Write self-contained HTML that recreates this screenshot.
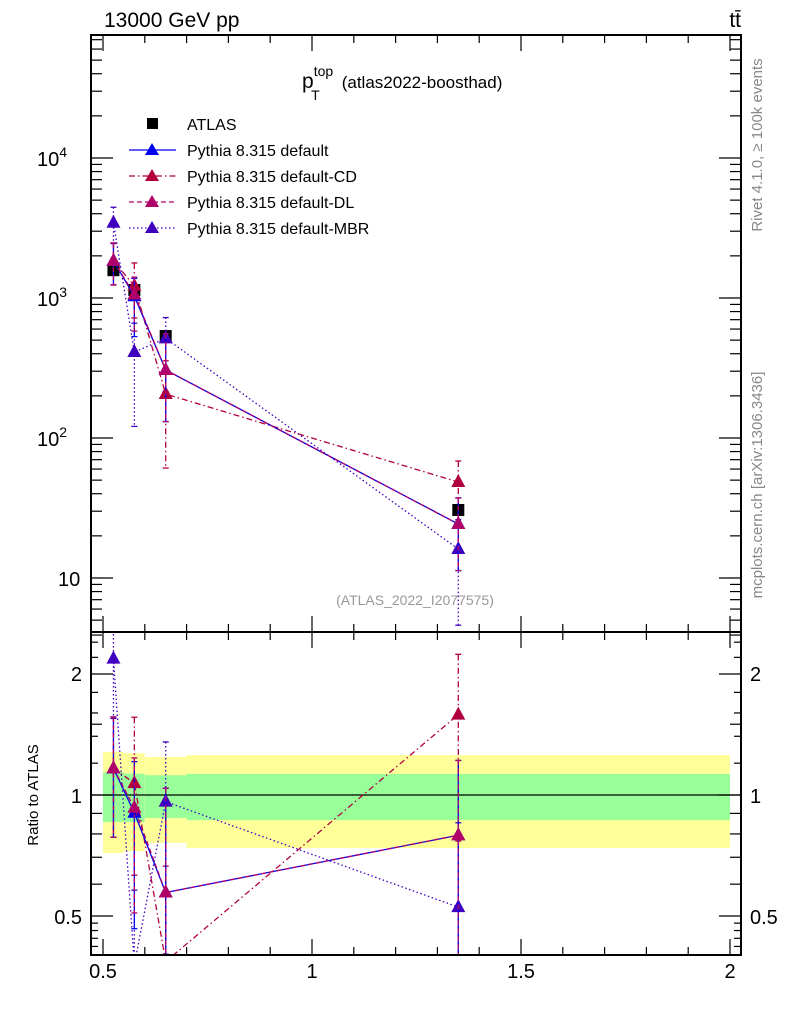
<!DOCTYPE html>
<html><head><meta charset="utf-8"><style>
html,body{margin:0;padding:0;background:#fff;width:786px;height:1024px;overflow:hidden;position:relative}
svg{display:block;position:absolute;left:0;top:0;font-family:"Liberation Sans",sans-serif}
</style></head><body>
<svg id="c" width="786" height="1024" viewBox="0 0 786 1024">
<text x="104" y="27" font-size="21">13000 GeV pp</text>
<text x="741" y="27" font-size="21" text-anchor="end">tt̄</text>
<text x="302" y="88" font-size="21">p<tspan font-size="14" dy="-12">top</tspan><tspan font-size="14" dx="-22" dy="24">T</tspan><tspan font-size="17" dx="22" dy="-12">(atlas2022-boosthad)</tspan></text>
<g font-size="16">
<rect x="147" y="118" width="11" height="11" fill="#000"/>
<text x="187" y="130">ATLAS</text>
<line x1="129" x2="176" y1="150" y2="150" stroke="#0000ee" stroke-width="1.3"/><path d="M152,143L159,155L145,155Z" fill="#0000ee"/>
<text x="187" y="156">Pythia 8.315 default</text>
<line x1="129" x2="176" y1="176" y2="176" stroke="#b00040" stroke-width="1.3" stroke-dasharray="6,3,1.5,3"/><path d="M152,169L159,181L145,181Z" fill="#b00040"/>
<text x="187" y="182">Pythia 8.315 default-CD</text>
<line x1="129" x2="176" y1="202" y2="202" stroke="#b0006a" stroke-width="1.3" stroke-dasharray="5,3"/><path d="M152,195L159,207L145,207Z" fill="#b0006a"/>
<text x="187" y="208">Pythia 8.315 default-DL</text>
<line x1="129" x2="176" y1="228" y2="228" stroke="#4000c0" stroke-width="1.3" stroke-dasharray="1.5,2.5"/><path d="M152,221L159,233L145,233Z" fill="#4000c0"/>
<text x="187" y="234">Pythia 8.315 default-MBR</text>
</g>
<g font-size="20">
<text x="37" y="166">10<tspan font-size="14" dy="-9">4</tspan></text>
<text x="37" y="306">10<tspan font-size="14" dy="-9">3</tspan></text>
<text x="37" y="446">10<tspan font-size="14" dy="-9">2</tspan></text>
<text x="58" y="586">10</text>
<text x="82" y="681" text-anchor="end">2</text>
<text x="82" y="803" text-anchor="end">1</text>
<text x="82" y="924" text-anchor="end">0.5</text>
<text x="750" y="681">2</text>
<text x="750" y="803">1</text>
<text x="750" y="924">0.5</text>
</g>
<text x="415" y="605" font-size="14" fill="#999" text-anchor="middle">(ATLAS_2022_I2077575)</text>
<text transform="translate(38,795) rotate(-90)" font-size="15" text-anchor="middle">Ratio to ATLAS</text>
<text transform="translate(762,145) rotate(-90)" font-size="15" fill="#888" text-anchor="middle">Rivet 4.1.0, ≥ 100k events</text>
<text transform="translate(762,485) rotate(-90)" font-size="15" fill="#888" text-anchor="middle">mcplots.cern.ch [arXiv:1306.3436]</text>
</svg>
<script>
const xs=[0.525,0.575,0.65,1.35];
const binLo=[0.5,0.55,0.6,0.7];
const binHi=[0.55,0.6,0.7,2.0];
const atlas=[1580,1140,535,30.6];
const atlasErr=[60,45,25,2];
const yellowLo=[0.717,0.725,0.76,0.738];
const yellowHi=[1.279,1.27,1.243,1.257];
const greenLo=[0.857,0.857,0.877,0.866];
const greenHi=[1.14,1.13,1.12,1.128];
const defVals=[1840,1030,306,24.3];
const defUp=[630,350,250,13];
const defDn=[600,500,175,13];
const cdVals=[1840,1220,206,48.5];
const cdUp=[630,560,150,20];
const cdDn=[600,500,145,25];
const dlVals=[1840,1060,306,24.3];
const dlUp=[630,350,250,13];
const dlDn=[600,480,175,13];
const mbrVals=[3450,411,515,16.1];
const mbrUp=[1000,250,210,10];
const mbrDn=[1000,290,300,11.5];
const xTicks=["0.5","1","1.5","2"];

const L=91,R=741,T=35,MB=632,RB=955;
const X=v=>103+(v-0.5)*418;
const clampM=y=>Math.max(T-10,Math.min(MB+10,y));
const clampR=y=>Math.max(MB-10,Math.min(RB+10,y));
const YM=v=>clampM(578-(Math.log10(v)-1)*140);
const YR=v=>clampR(795-Math.log2(v)*121);
const NS="http://www.w3.org/2000/svg";
const svg=document.getElementById('c');
function el(t,a,p){const e=document.createElementNS(NS,t);for(const k in a)e.setAttribute(k,a[k]);(p||svg).appendChild(e);return e;}

const defs=el('defs',{});
const c1=el('clipPath',{id:'cm'},defs);el('rect',{x:L,y:T,width:R-L,height:MB-T},c1);
const c2=el('clipPath',{id:'cr'},defs);el('rect',{x:L,y:MB,width:R-L,height:RB-MB},c2);

const bands=el('g',{'clip-path':'url(#cr)'});


for(let i=0;i<xs.length;i++){
 const y=el('rect',{x:X(binLo[i]),y:YR(yellowHi[i]),width:X(binHi[i])-X(binLo[i]),height:YR(yellowLo[i])-YR(yellowHi[i]),fill:'#ffff99'},bands);
 
 
 const g=el('rect',{x:X(binLo[i]),y:YR(greenHi[i]),width:X(binHi[i])-X(binLo[i]),height:YR(greenLo[i])-YR(greenHi[i]),fill:'#99ff99'},bands);
 
 
}
el('line',{x1:L,x2:R,y1:YR(1),y2:YR(1),stroke:'#000','stroke-width':1.2});

const series=[
 {n:'default-MBR',v:mbrVals,u:mbrUp,d:mbrDn,c:'#4000c0',da:'1.5,2.5'},
 {n:'default-CD',v:cdVals,u:cdUp,d:cdDn,c:'#b00040',da:'6,3,1.5,3'},
 {n:'default',v:defVals,u:defUp,d:defDn,c:'#0000ee',da:''},
 {n:'default-DL',v:dlVals,u:dlUp,d:dlDn,c:'#b0006a',da:'5,3'},
];
function tri(g,x,y,c){return el('path',{d:`M${x},${y-8}L${x+7},${y+5}L${x-7},${y+5}Z`,fill:c},g);}
function drawSeries(s,Y,clip,ratio){
 const g=el('g',{'clip-path':clip});
 
 
 const val=i=>ratio?s.v[i]/atlas[i]:s.v[i];
 const up=i=>ratio?(s.v[i]+s.u[i])/atlas[i]:s.v[i]+s.u[i];
 const dn=i=>{const r=Math.max(s.v[i]-s.d[i],0.1);return ratio?r/atlas[i]:r;};
 let p='';for(let i=0;i<xs.length;i++)p+=(i?'L':'M')+X(xs[i])+','+Y(val(i));
 el('path',{d:p,fill:'none',stroke:s.c,'stroke-width':1.3,'stroke-dasharray':s.da},g);
 for(let i=0;i<xs.length;i++){
  const x=X(xs[i]);
  el('line',{x1:x,x2:x,y1:Y(up(i)),y2:Y(dn(i)),stroke:s.c,'stroke-width':1.3,'stroke-dasharray':s.da},g);
  el('line',{x1:x-3,x2:x+3,y1:Y(up(i)),y2:Y(up(i)),stroke:s.c,'stroke-width':1.3},g);
  el('line',{x1:x-3,x2:x+3,y1:Y(dn(i)),y2:Y(dn(i)),stroke:s.c,'stroke-width':1.3},g);
  const t=tri(g,x,Y(val(i)),s.c);
  
  
 }
}
const ga=el('g',{'clip-path':'url(#cm)'});


for(let i=0;i<xs.length;i++){
 const x=X(xs[i]),y=YM(atlas[i]);
 el('line',{x1:x,x2:x,y1:YM(atlas[i]+atlasErr[i]),y2:YM(atlas[i]-atlasErr[i]),stroke:'#000','stroke-width':1.3},ga);
 const r=el('rect',{x:x-6,y:y-6,width:12,height:12,fill:'#000'},ga);
 
 
}
for(const s of series){drawSeries(s,YM,'url(#cm)',false);drawSeries(s,YR,'url(#cr)',true);}

el('rect',{x:L,y:T,width:R-L,height:MB-T,fill:'none',stroke:'#000','stroke-width':2});
el('rect',{x:L,y:MB,width:R-L,height:RB-MB,fill:'none',stroke:'#000','stroke-width':2});
const ax=el('g',{stroke:'#000','stroke-width':1.2});
for(let k=5;k<=20;k++){
 const x=X(k/10),maj=(k%5===0),len=maj?16:8;
 for(const [yt,yb] of [[T,MB],[MB,RB]]){
  el('line',{x1:x,x2:x,y1:yt,y2:yt+len},ax);el('line',{x1:x,x2:x,y1:yb,y2:yb-len},ax);
 }
}
for(let d=0;d<5;d++)for(let m=1;m<10;m++){
 const v=m*Math.pow(10,d),y=578-(Math.log10(v)-1)*140;if(y<T||y>MB)continue;
 const len=m===1?22:11;
 el('line',{x1:L,x2:L+len,y1:y,y2:y},ax);el('line',{x1:R,x2:R-len,y1:y,y2:y},ax);
}
[0.4,0.5,0.6,0.7,0.8,0.9,1,1.5,2,2.5].forEach(v=>{const y=795-Math.log2(v)*121;if(y<MB||y>RB)return;
 const len=(v===0.5||v===1||v===2)?22:11;
 el('line',{x1:L,x2:L+len,y1:y,y2:y},ax);el('line',{x1:R,x2:R-len,y1:y,y2:y},ax);});
[0.42,0.44,0.46,0.48,1.2,1.4,1.6,1.8,2.2,2.4].forEach(v=>{const y=795-Math.log2(v)*121;if(y<MB||y>RB)return;
 el('line',{x1:L,x2:L+7,y1:y,y2:y},ax);el('line',{x1:R,x2:R-7,y1:y,y2:y},ax);});

xTicks.forEach(s=>{const t=el('text',{x:X(parseFloat(s)),y:978,'font-size':20,'text-anchor':'middle',fill:'#000'});
 t.textContent=s;
 
 });
</script>
</body></html>
